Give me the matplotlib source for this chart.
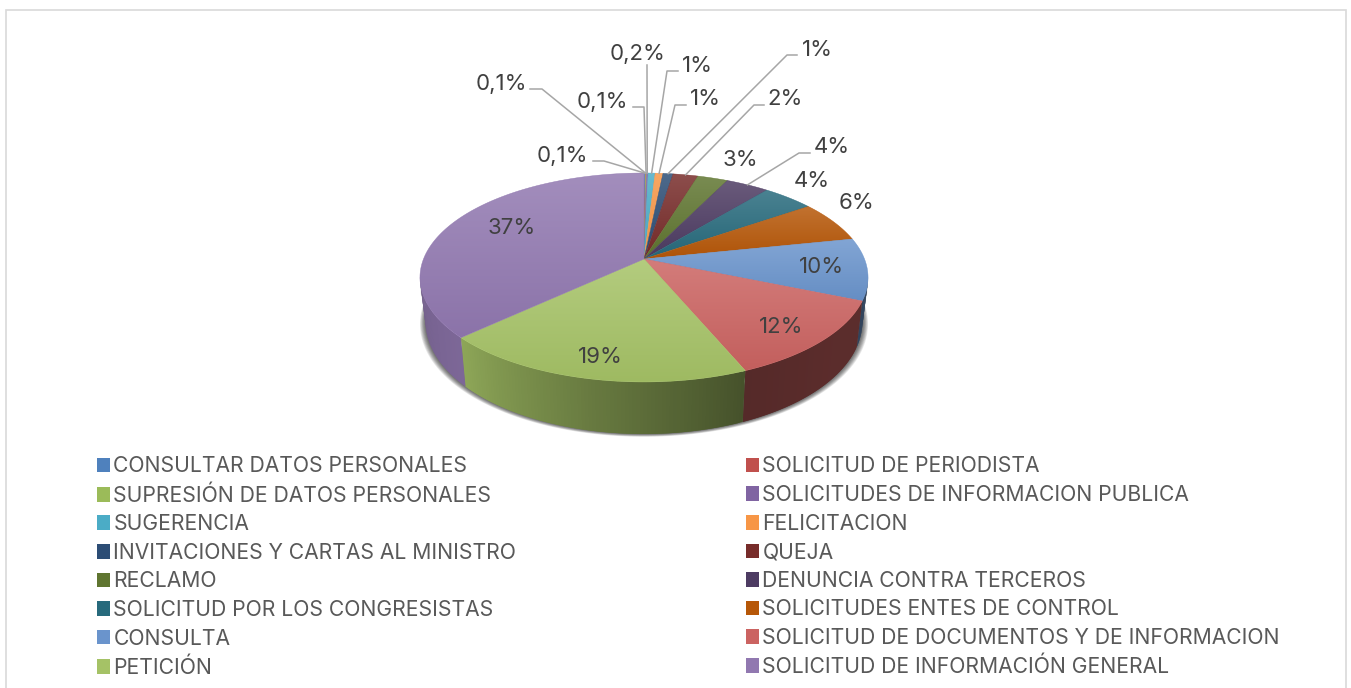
import numpy as np
import matplotlib
matplotlib.use("Agg")
import matplotlib.pyplot as plt
from matplotlib.patches import Polygon, Rectangle
from matplotlib.colors import to_rgb

# clockwise from 12 o'clock, same order as the legend
categories = ["CONSULTAR DATOS PERSONALES", "SOLICITUD DE PERIODISTA",
              "SUPRESIÓN DE DATOS PERSONALES", "SOLICITUDES DE INFORMACION PUBLICA",
              "SUGERENCIA", "FELICITACION",
              "INVITACIONES Y CARTAS AL MINISTRO", "QUEJA",
              "RECLAMO", "DENUNCIA CONTRA TERCEROS",
              "SOLICITUD POR LOS CONGRESISTAS", "SOLICITUDES ENTES DE CONTROL",
              "CONSULTA", "SOLICITUD DE DOCUMENTOS Y DE INFORMACION",
              "PETICIÓN", "SOLICITUD DE INFORMACIÓN GENERAL"]
values = [0.1, 0.05, 0.05, 0.15, 0.6, 0.67, 0.86, 2.14, 2.6, 3.7, 4.4, 6.4, 9.6, 12.4, 19.3, 36.98]
value_labels = ["0,1%", "0,1%", "0,1%", "0,2%", "1%", "1%", "1%", "2%",
                "3%", "4%", "4%", "6%", "10%", "12%", "19%", "37%"]
colors = ["#4f81bd", "#c0504d", "#9bbb59", "#8064a2", "#4bacc6", "#f79646",
          "#2c4d75", "#772c2a", "#5f7530", "#4d3b62", "#276a7c", "#b65708",
          "#6a94cc", "#cb6361", "#a5c266", "#9178b0"]

# label centres in pixels
label_x = [562, 501, 602, 638, 697, 705, 817, 785, 740, 832, 812, 856, 822, 781, 600, 512]
label_y = [156, 84, 102, 54, 66, 99, 50, 99, 160, 147, 181, 203, 267, 327, 357, 228]
# leader line elbow (start, knee), None for labels without a leader
leaders = [((593, 161), (604, 161)), ((530, 89), (542, 89)), ((633, 107), (644, 107)),
           ((647, 65), (647, 66)), ((678, 71), (667, 71)), ((686, 105), (675, 105)),
           ((797, 55), (787, 55)), ((764, 105), (754, 105)), None,
           ((810, 153), (799, 153)), None, None, None, None, None, None]

CX, CY = 644, 259
A, B, K = 220.5, 101.2, 0.177


def project(theta):
    # perspective view of the disc, theta in degrees clockwise from the top
    t = np.radians(theta)
    d = 1 + K * np.cos(t)
    return CX + A * np.sin(t) / d, CY - B * np.cos(t) / d


def project_low(theta):
    x, y = project(theta)
    return CX + (x - CX) * 0.975, y + 42 - 10 * np.cos(np.radians(theta))


def wall_shade(theta):
    return np.interp(theta, [100, 130, 157, 190, 227, 260], [0.45, 0.45, 0.42, 0.62, 0.86, 0.8])


def draw_shadow(ax):
    th = np.linspace(85, 275, 120)
    x, y = project_low(th)
    for i in range(8):
        s = 1 + 0.0032 * (8 - i)
        px = CX + (x - CX) * s
        py = y + (8 - i) * 0.35
        pts = np.column_stack([np.r_[px, px[::-1]], np.r_[py, py[::-1] - 40]])
        ax.add_patch(Polygon(pts, fc="#000000", ec="none", alpha=0.09, zorder=1))


def draw_walls(ax, edges):
    for i in range(len(values)):
        a, b = max(edges[i], 100), min(edges[i + 1], 260)
        if b <= a:
            continue
        base = np.array(to_rgb(colors[i]))
        steps = max(int((b - a) / 0.8), 1)
        th = np.linspace(a, b, steps + 1)
        for j in range(steps):
            # overlap the next step so no seams show
            seg = th[j:j + 3]
            x1, y1 = project(seg)
            x2, y2 = project_low(seg)
            c = np.clip(base * wall_shade((th[j] + th[j + 1]) / 2), 0, 1)
            ax.add_patch(Polygon(np.column_stack([np.r_[x1, x2[::-1]], np.r_[y1, y2[::-1]]]),
                                 fc=c, ec="none", zorder=2))


def draw_top(ax, edges):
    for i in range(len(values)):
        th = np.linspace(edges[i], edges[i + 1], max(int(edges[i + 1] - edges[i]) * 2, 2))
        x, y = project(th)
        pts = np.column_stack([np.r_[CX, x], np.r_[CY, y]])
        base = np.array(to_rgb(colors[i]))
        top = base + (1 - base) * 0.16
        low = base * 0.96
        grad = np.linspace(0, 1, 64)[:, None, None]
        img = top[None, None, :] * (1 - grad) + low[None, None, :] * grad
        im = ax.imshow(img, extent=(pts[:, 0].min(), pts[:, 0].max(), pts[:, 1].max(), pts[:, 1].min()),
                       aspect="auto", zorder=3, interpolation="bilinear")
        poly = Polygon(pts, fc="none", ec="none", transform=ax.transData)
        ax.add_patch(poly)
        im.set_clip_path(poly)
        ax.add_patch(Polygon(pts, fc="none", ec=base, lw=0.3, zorder=3))


def main():
    plt.rcParams["font.family"] = ["Inter", "Liberation Sans", "DejaVu Sans"]
    fig = plt.figure(figsize=(13.51, 6.88), dpi=100)
    ax = fig.add_axes([0, 0, 1, 1])

    ax.add_patch(Rectangle((5.5, 9.5), 1340, 700, fc="white", ec="#d9d9d9", lw=1.2, zorder=0))

    frac = np.array(values) / sum(values)
    edges = np.r_[0, np.cumsum(frac)] * 360

    draw_shadow(ax)
    draw_walls(ax, edges)
    draw_top(ax, edges)

    for i in range(len(values)):
        ax.text(label_x[i], label_y[i], value_labels[i], fontsize=16, color="#404040",
                ha="center", va="center", zorder=6)
        if leaders[i] is not None:
            ex, ey = project((edges[i] + edges[i + 1]) / 2)
            (x0, y0), (x1, y1) = leaders[i]
            ax.plot([x0, x1, ex], [y0, y1, ey], color="#a6a6a6", lw=1.1, zorder=5)

    # legend, two columns filled row by row
    handles = [Rectangle((0, 0), 1, 1, fc=c, ec="none") for c in colors]
    order = list(range(0, 16, 2)) + list(range(1, 16, 2))
    leg = ax.legend([handles[i] for i in order], [categories[i] for i in order], ncols=2,
                    loc="upper left", bbox_to_anchor=(97 / 1351, 1 - 456.5 / 688), frameon=False,
                    fontsize=15.2, labelcolor="#595959", borderpad=0, borderaxespad=0,
                    handlelength=0.62, handleheight=0.69, handletextpad=0.15,
                    labelspacing=0.407, columnspacing=10.9)
    leg.set_zorder(6)

    ax.set_xlim(0, 1351)
    ax.set_ylim(688, 0)
    ax.axis("off")
    fig.savefig("out.png", dpi=100, facecolor="white")


if __name__ == "__main__":
    main()
